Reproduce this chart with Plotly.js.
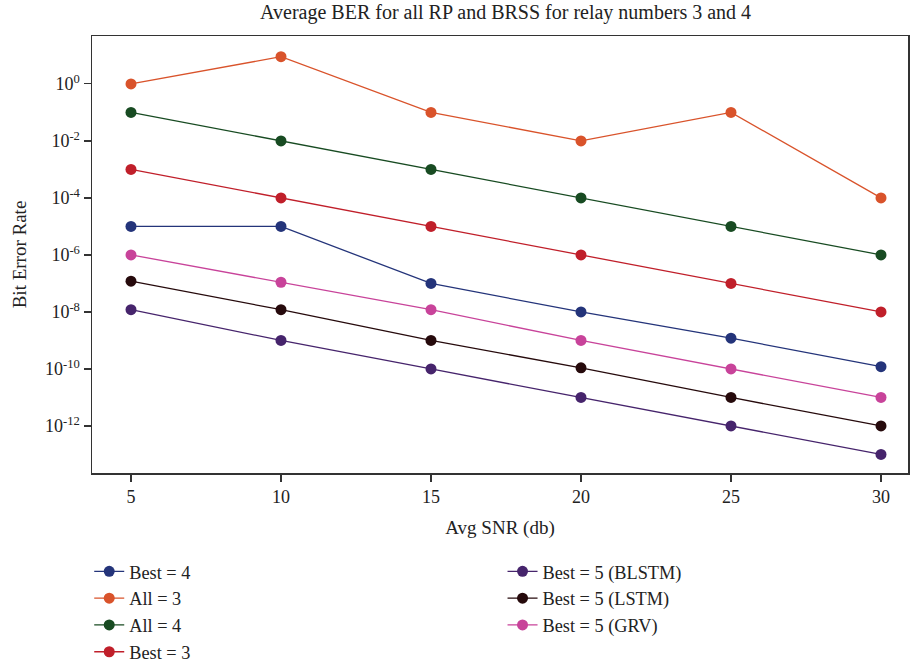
<!DOCTYPE html>
<html>
<head>
<meta charset="utf-8">
<script src="https://cdn.plot.ly/plotly-3.0.1.min.js"></script>
<style>html,body{margin:0;padding:0;background:#fff;}#chart{width:911px;height:663px;}</style>
</head>
<body>
<div id="chart"></div>
<script>
const snr = [5, 10, 15, 20, 25, 30];
const best4 = [1e-5, 1e-5, 1e-7, 1e-8, 1.2e-9, 1.2e-10];
const all3 = [1, 9, 0.1, 0.01, 0.1, 1e-4];
const all4 = [0.1, 0.01, 1e-3, 1e-4, 1e-5, 1e-6];
const best3 = [1e-3, 1e-4, 1e-5, 1e-6, 1e-7, 1e-8];
const blstm = [1.2e-8, 1e-9, 1e-10, 1e-11, 1e-12, 1e-13];
const lstm = [1.2e-7, 1.2e-8, 1e-9, 1.1e-10, 1e-11, 1e-12];
const grv = [1e-6, 1.1e-7, 1.2e-8, 1e-9, 1e-10, 1e-11];
const yTickVals = [1, 1e-2, 1e-4, 1e-6, 1e-8, 1e-10, 1e-12];
const yTickText = ['10<sup>0</sup>', '10<sup>-2</sup>', '10<sup>-4</sup>', '10<sup>-6</sup>', '10<sup>-8</sup>', '10<sup>-10</sup>', '10<sup>-12</sup>'];

const series = [
  {name: 'Best = 4', y: best4, color: '#24347a', legend: 'legend'},
  {name: 'All = 3', y: all3, color: '#d9532b', legend: 'legend'},
  {name: 'All = 4', y: all4, color: '#184b22', legend: 'legend'},
  {name: 'Best = 3', y: best3, color: '#c01f2a', legend: 'legend'},
  {name: 'Best = 5 (BLSTM)', y: blstm, color: '#46246c', legend: 'legend2'},
  {name: 'Best = 5 (LSTM)', y: lstm, color: '#260a0c', legend: 'legend2'},
  {name: 'Best = 5 (GRV)', y: grv, color: '#c8439a', legend: 'legend2'}
];

const traces = series.map(s => ({
  x: snr, y: s.y, name: s.name, type: 'scatter', mode: 'lines+markers',
  line: {color: s.color, width: 1.3},
  marker: {color: s.color, size: 11},
  legend: s.legend
}));

const fam = '"Liberation Serif", "DejaVu Serif", serif';

const legendCommon = {
  orientation: 'v', yanchor: 'top', xanchor: 'left',
  font: {family: fam, size: 18.3, color: '#222'},
  bgcolor: 'rgba(0,0,0,0)', tracegroupgap: 0, itemwidth: 30
};

const layout = {
  width: 911, height: 663,
  margin: {l: 92, r: 3, t: 36, b: 190, autoexpand: false},
  paper_bgcolor: '#fff', plot_bgcolor: '#fff',
  font: {family: fam, size: 16, color: '#222'},
  title: {text: 'Average BER for all RP and BRSS for relay numbers 3 and 4', x: 0.555, xanchor: 'center', y: 0.992, yanchor: 'top', font: {family: fam, size: 20, color: '#222'}},
  showlegend: true,
  xaxis: {
    automargin: false,
    range: [3.7, 30.9], tickvals: snr, ticks: 'outside', ticklen: 7, tickwidth: 1.2, tickcolor: '#333',
    showline: true, mirror: true, linecolor: '#333', linewidth: 1.5, showgrid: false, zeroline: false,
    tickfont: {family: fam, size: 18, color: '#222'},
    title: {text: 'Avg SNR (db)', font: {family: fam, size: 19, color: '#222'}, standoff: 14}
  },
  yaxis: {
    automargin: false,
    type: 'log', range: [-13.65, 1.68], tickvals: yTickVals, ticktext: yTickText,
    ticks: 'outside', ticklen: 7, tickwidth: 1.2, tickcolor: '#333',
    showline: true, mirror: true, linecolor: '#333', linewidth: 1.5, showgrid: false, zeroline: false,
    tickfont: {family: fam, size: 18, color: '#222'},
    title: {text: 'Bit Error Rate', font: {family: fam, size: 19, color: '#222'}, standoff: 13}
  },
  legend: Object.assign({}, legendCommon, {x: -0.0034, y: -0.183}),
  legend2: Object.assign({}, legendCommon, {x: 0.5031, y: -0.183})
};

Plotly.newPlot('chart', traces, layout, {displayModeBar: false, staticPlot: true});
</script>
</body>
</html>
